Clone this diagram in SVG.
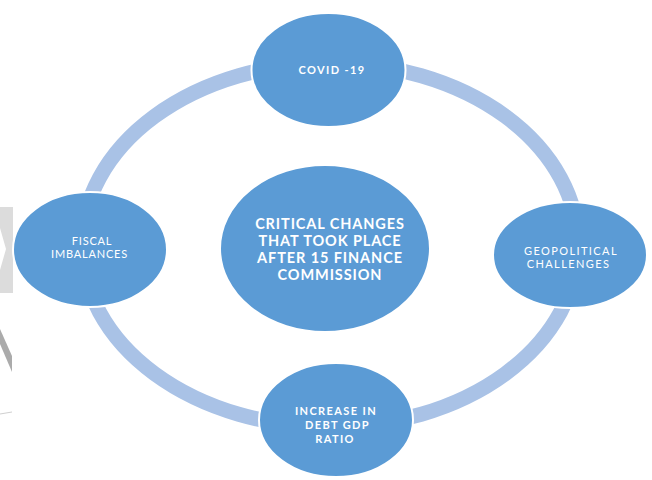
<svg xmlns="http://www.w3.org/2000/svg" width="652" height="480" viewBox="0 0 652 480">
  <style>
    .node { fill: #5b9bd5; stroke: #ffffff; stroke-width: 2; }
    .ring { fill: none; stroke: #a9c2e6; stroke-width: 15; }
    .lbl { fill: #ffffff; font-family: Lato, "Open Sans", "Liberation Sans", sans-serif; text-anchor: middle; }
    .small { font-size: 11px; letter-spacing: 0.8px; }
    .wide { letter-spacing: 1.4px; }
    .big { font-size: 14.5px; font-weight: bold; letter-spacing: 0.9px; }
    .semi { font-weight: bold; }
  </style>
  <rect width="652" height="480" fill="#ffffff"/>

  <!-- faint grey marks along the left margin -->
  <g id="margin-marks">
    <polygon points="0,207 13,207 13,293 0,293 0,270 6,249 0,228" fill="#dcdcdc"/>
    <polygon points="0,329 12,356 12,372 0,344" fill="#ababab"/>
    <line x1="0" y1="414" x2="12" y2="412" stroke="#cfcfcf" stroke-width="1"/>
  </g>

  <!-- cycle ring joining the outer nodes -->
  <g id="connectors">
    <ellipse class="ring" cx="330" cy="245" rx="248" ry="182"/>
  </g>

  <g id="node-center">
    <ellipse class="node" cx="325" cy="248.5" rx="105" ry="83.5"/>
    <text class="lbl big" x="330" y="229">CRITICAL CHANGES</text>
    <text class="lbl big" x="330" y="246">THAT TOOK PLACE</text>
    <text class="lbl big" x="330" y="263">AFTER 15 FINANCE</text>
    <text class="lbl big" x="330" y="280">COMMISSION</text>
  </g>

  <g id="node-covid">
    <ellipse class="node" cx="328.5" cy="70" rx="77" ry="57"/>
    <text class="lbl small semi wide" x="332" y="73.5">COVID -19</text>
  </g>

  <g id="node-fiscal">
    <ellipse class="node" cx="90" cy="249.5" rx="77" ry="57.5"/>
    <text class="lbl small" x="92" y="245">FISCAL</text>
    <text class="lbl small" x="89.5" y="257.5">IMBALANCES</text>
  </g>

  <g id="node-geopolitical">
    <ellipse class="node" cx="570" cy="255" rx="77" ry="53"/>
    <text class="lbl small wide" x="571" y="255">GEOPOLITICAL</text>
    <text class="lbl small wide" x="568.5" y="267.5">CHALLENGES</text>
  </g>

  <g id="node-debt">
    <ellipse class="node" cx="336" cy="420" rx="77" ry="57"/>
    <text class="lbl small semi wide" x="336" y="415">INCREASE IN</text>
    <text class="lbl small semi wide" x="337.5" y="429">DEBT GDP</text>
    <text class="lbl small semi wide" x="335" y="442.5">RATIO</text>
  </g>
</svg>
